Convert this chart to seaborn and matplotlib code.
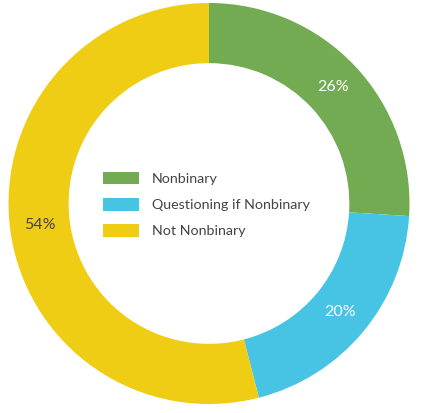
import matplotlib
matplotlib.use("Agg")
import matplotlib.pyplot as plt
import seaborn as sns
from matplotlib.patches import Patch

categories = ["Nonbinary", "Questioning if Nonbinary", "Not Nonbinary"]
values = [26, 20, 54]
colors = ["#72AB51", "#47C3E3", "#F0CD15"]
label_colors = ["white", "white", "#444444"]

sns.set_theme(style="white")
plt.rcParams['font.family'] = ['Lato', 'DejaVu Sans']

W, H = 421, 413
fig = plt.figure(figsize=(W / 100, H / 100), dpi=100)
ax = fig.add_axes([0, 0, 1, 1])
cx, cy, R = 209, 203.5, 200.5
ax.set_aspect('equal', adjustable='datalim')
ax.axis('off')

width = 0.30
wedges, texts, autotexts = ax.pie(
    values, colors=colors, startangle=90, counterclock=False,
    radius=1.0, wedgeprops=dict(width=width, linewidth=0),
    autopct=lambda p: f"{p:.0f}%", pctdistance=1 - width / 2,
    textprops=dict(fontsize=11.5))
for t, c in zip(autotexts, label_colors):
    t.set_color(c)
ax.set_xlim(-cx / R, (W - cx) / R)
ax.set_ylim(-(H - cy) / R, cy / R)

handles = [Patch(facecolor=c, edgecolor='none') for c in colors]
leg = ax.legend(handles, categories, loc='center', bbox_to_anchor=(0.49, 0.505),
                frameon=False, fontsize=10.3, handlelength=2.5, handleheight=1.0,
                labelspacing=0.9, handletextpad=0.9)
for t in leg.get_texts():
    t.set_color('#444444')

fig.savefig("out.png", dpi=100, facecolor='white')
